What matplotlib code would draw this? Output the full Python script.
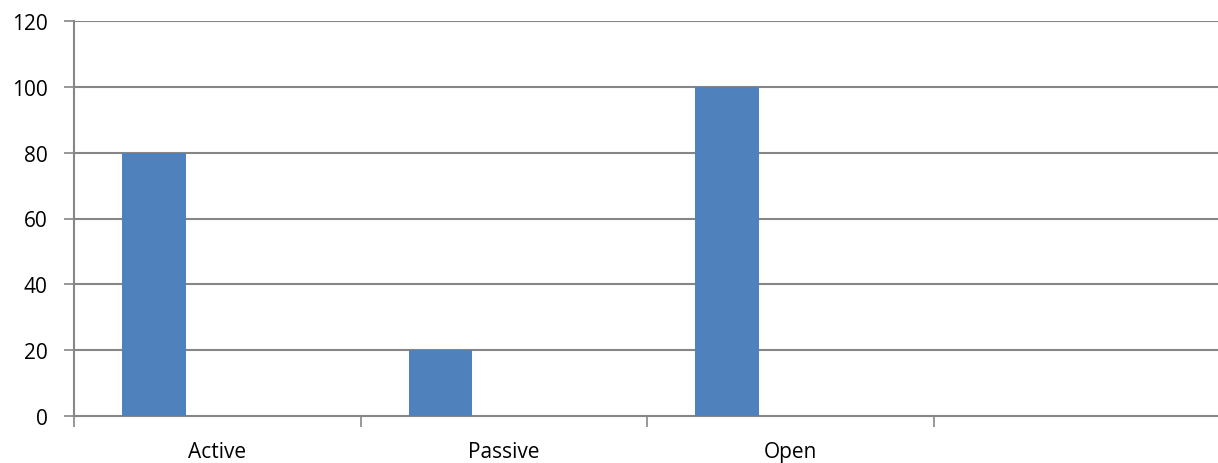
import numpy as np
import matplotlib
matplotlib.use('Agg')
from matplotlib import pyplot as plt

categories = ['Active', 'Passive', 'Open', '']
series1 = [80, 20, 100, 0]
series2 = [0, 0, 0, 0]
series3 = [0, 0, 0, 0]
yticks = [0, 20, 40, 60, 80, 100, 120]

plt.rcParams['font.family'] = ['Open Sans', 'DejaVu Sans']
gray = '#868686'
blue = '#4F81BD'

fig = plt.figure(figsize=(12.18, 4.64), dpi=100)
ax = fig.add_axes([74 / 1218, 1 - 417 / 464, 1 - 74 / 1218, (417 - 22) / 464])

x = np.arange(len(categories))
w = 1 / (3 + 1.5)
for i, s in enumerate([series1, series2, series3]):
    vals = np.array(s, dtype=float)
    ax.bar(x + (i - 1) * w, vals, w, color=blue, zorder=3)

ax.set_xlim(-0.5, len(categories) - 0.51)
ax.set_ylim(0, 120)
ax.set_yticks(yticks)
ax.set_yticklabels([str(v) for v in yticks], fontsize=15)
for v in yticks[1:]:
    ax.axhline(v, color=gray, lw=1.5, zorder=1)

ax.set_xticks(np.arange(len(categories)) - 0.5)
ax.set_xticklabels([])
ax.set_xticks(x, minor=True)
ax.set_xticklabels(categories, minor=True, fontsize=15)
ax.tick_params(axis='x', which='major', length=8, width=1.2, color=gray, direction='out')
ax.tick_params(axis='x', which='minor', length=0, pad=18)
ax.tick_params(axis='y', length=7, width=1.2, color=gray, pad=12)

for side in ['top', 'right']:
    ax.spines[side].set_visible(False)
for side in ['left', 'bottom']:
    ax.spines[side].set_color(gray)
    ax.spines[side].set_linewidth(1.5)

fig.savefig('out.png', dpi=100)
